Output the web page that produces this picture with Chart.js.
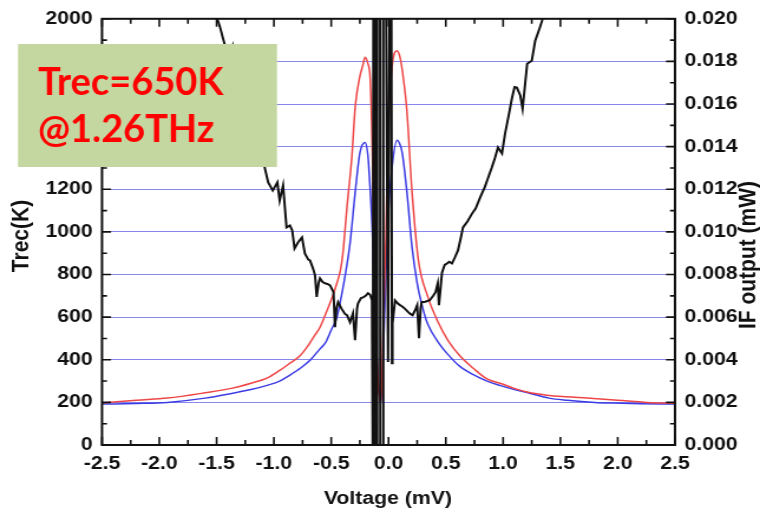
<!DOCTYPE html>
<html>
<head>
<meta charset="utf-8">
<script src="https://cdn.jsdelivr.net/npm/chart.js@4.4.1/dist/chart.umd.min.js"></script>
<style>
  body { margin: 0; background: #fff; }
</style>
</head>
<body>
<canvas id="plot" width="644" height="513" style="width:760px;height:513px;display:block"></canvas>
<script>
// receiver noise temperature (left axis), K
const trecVoltage = [-1.56, -1.495, -1.47, -1.45, -1.43, -1.40, -1.36, -1.33, -1.30, -1.26, -1.22, -1.18, -1.14, -1.10,
  -1.078, -1.05, -1.01, -0.97, -0.95, -0.92, -0.89, -0.86, -0.84, -0.82, -0.79, -0.755, -0.73, -0.70, -0.685,
  -0.66, -0.641, -0.627, -0.61, -0.598, -0.575, -0.554, -0.53, -0.51, -0.48, -0.467, -0.455, -0.44, -0.41,
  -0.38, -0.362, -0.336, -0.31, -0.292, -0.275, -0.266, -0.24, -0.222, -0.20, -0.179, -0.16, -0.144,
  -0.137, -0.132, -0.122, -0.118, -0.102, -0.098, -0.074, -0.072, -0.048, -0.045, -0.022, -0.004, 0.010,
  0.025, 0.030, 0.035, 0.057, 0.08, 0.10, 0.12, 0.14, 0.17, 0.19, 0.21, 0.23, 0.25, 0.266, 0.28, 0.29,
  0.32, 0.36, 0.39, 0.41, 0.43, 0.44, 0.467, 0.49, 0.51, 0.53, 0.554, 0.58, 0.606, 0.63, 0.65, 0.69,
  0.73, 0.76, 0.80, 0.84, 0.87, 0.90, 0.93, 0.955, 0.99, 1.017, 1.05, 1.078, 1.10, 1.12, 1.15, 1.17,
  1.21, 1.25, 1.28, 1.32, 1.34, 1.36, 1.40];
const trecValues = [2150, 2000, 1960, 1920, 1880, 1790, 1870, 1760, 1700, 1640, 1590, 1500, 1430, 1360,
  1297, 1232, 1194, 1232, 1147, 1218, 1021, 1030, 1007, 922, 950, 974, 899, 870, 866,
  830, 796, 695, 760, 782, 765, 759, 755, 749, 717, 553, 640, 670, 640,
  615, 609, 576, 618, 492, 640, 665, 690, 693, 700, 712, 705, 679,
  -100, 2200, 2200, -100, -100, 2200, 2200, -100, -100, 2200, 2200, 390, 2200,
  2200, 384, 571, 679, 665, 656, 650, 641, 625, 615, 609, 630, 656, 501, 640, 670,
  672, 679, 700, 717, 759, 656, 810, 845, 852, 860, 852, 881, 913, 970, 1021, 1050,
  1087, 1110, 1162, 1210, 1255, 1300, 1349, 1396, 1368, 1461, 1550, 1630, 1680, 1677, 1640, 1578,
  1789, 1803, 1897, 1958, 1990, 2080, 2200];

// IF output power (right axis), mW
const hotVoltage = [-2.5, -2.2, -1.93, -1.6, -1.36, -1.2, -1.06, -0.95, -0.86, -0.77, -0.71, -0.65, -0.6,
  -0.53, -0.48, -0.45, -0.42, -0.4, -0.36, -0.32, -0.29, -0.25, -0.225, -0.205, -0.18, -0.16, -0.14,
  -0.118, -0.09, -0.066, -0.048, -0.022, -0.004, 0.03, 0.074, 0.10, 0.13, 0.16, 0.205, 0.26, 0.34,
  0.43, 0.52, 0.62, 0.74, 0.86, 1.0, 1.09, 1.2, 1.38, 1.55, 1.73, 2.0, 2.26, 2.5];
const hotIF = [0.00197, 0.0021, 0.0022, 0.00245, 0.00267, 0.0029, 0.00314, 0.0035, 0.00384, 0.0042, 0.0046, 0.0051, 0.0055,
  0.0064, 0.0071, 0.0076, 0.0082, 0.0089, 0.0113, 0.0135, 0.0159, 0.0173, 0.0178, 0.0182, 0.0179, 0.0172, 0.0135,
  0.0068, 0.0029, 0.0020, 0.0052, 0.0099, 0.0146, 0.0177, 0.0185, 0.0182, 0.0172, 0.0157, 0.0119, 0.0087, 0.0070,
  0.0058, 0.0049, 0.0042, 0.0036, 0.0031, 0.00285, 0.00267, 0.0025, 0.00234, 0.00226, 0.0022, 0.0021, 0.0020, 0.00196];

const coldVoltage = [-2.5, -2.2, -1.93, -1.6, -1.36, -1.2, -1.06, -0.95, -0.86, -0.77, -0.68, -0.6, -0.55,
  -0.5, -0.45, -0.4, -0.38, -0.335, -0.29, -0.25, -0.205, -0.18, -0.16, -0.14, -0.118, -0.09, -0.066,
  -0.045, -0.03, -0.004, 0.03, 0.074, 0.10, 0.12, 0.16, 0.205, 0.25, 0.30, 0.34, 0.45, 0.51, 0.62,
  0.74, 0.86, 0.97, 1.1, 1.23, 1.4, 1.56, 1.8, 1.96, 2.2, 2.5];
const coldIF = [0.00192, 0.00195, 0.0020, 0.0022, 0.00243, 0.0026, 0.0028, 0.0030, 0.00328, 0.0036, 0.0040, 0.0045, 0.0048,
  0.0054, 0.0060, 0.0073, 0.0079, 0.0095, 0.0119, 0.0137, 0.0142, 0.0136, 0.0120, 0.0099, 0.0060, 0.0030, 0.0020,
  0.0045, 0.0068, 0.0107, 0.0130, 0.0143, 0.0141, 0.0137, 0.0119, 0.0093, 0.0076, 0.0064, 0.0057, 0.0047, 0.0043, 0.0037,
  0.0033, 0.0030, 0.0028, 0.0026, 0.00243, 0.0022, 0.0021, 0.0020, 0.00197, 0.00194, 0.00192];

const voltageTicks = [-2.5, -2.0, -1.5, -1.0, -0.5, 0.0, 0.5, 1.0, 1.5, 2.0, 2.5];

// the whole canvas is widened horizontally by CSS
const STRETCH = 760 / 644;
const FONT = "'Liberation Sans', Arial, sans-serif";

Chart.defaults.font.family = FONT;
Chart.defaults.font.weight = 'bold';
Chart.defaults.font.size = 18;
Chart.defaults.color = '#111';

const pts = (xs, ys) => xs.map((x, i) => ({ x: x, y: ys[i] }));

// frame, inward tick marks, axis titles and the note box
const decorations = {
  id: 'decorations',
  afterDatasetsDraw(chart) {
    const ctx = chart.ctx;
    const a = chart.chartArea;
    const xs = chart.scales.x, ys = chart.scales.y;
    ctx.save();
    ctx.strokeStyle = '#111';
    ctx.lineWidth = 1.6;
    for (let v = -2.5; v <= 2.5001; v += 0.25) {
      const px = xs.getPixelForValue(v);
      const len = Math.abs(v * 2 - Math.round(v * 2)) < 1e-6 ? 8 : 5;
      ctx.beginPath();
      ctx.moveTo(px, a.bottom); ctx.lineTo(px, a.bottom - len);
      ctx.moveTo(px, a.top); ctx.lineTo(px, a.top + len);
      ctx.stroke();
    }
    for (let v = 0; v <= 2000; v += 100) {
      const py = ys.getPixelForValue(v);
      const len = (v % 200 === 0 ? 9 : 5) / STRETCH;
      ctx.beginPath();
      ctx.moveTo(a.left, py); ctx.lineTo(a.left + len, py);
      ctx.moveTo(a.right, py); ctx.lineTo(a.right - len, py);
      ctx.stroke();
    }
    ctx.lineWidth = 2;
    ctx.strokeRect(a.left, a.top, a.right - a.left, a.bottom - a.top);
    ctx.restore();
  },
  afterDraw(chart) {
    const ctx = chart.ctx;
    ctx.save();
    ctx.fillStyle = '#111';
    ctx.textAlign = 'center';
    ctx.textBaseline = 'middle';
    ctx.font = 'bold 18px ' + FONT;
    ctx.fillText('Voltage (mV)', 388 / STRETCH, 499);

    ctx.font = 'bold 21px ' + FONT;
    ctx.save();
    ctx.translate(22 / STRETCH, 236);
    ctx.rotate(-Math.PI / 2);
    ctx.fillText('Trec(K)', 0, 0);
    ctx.restore();
    ctx.save();
    ctx.translate(748 / STRETCH, 255);
    ctx.rotate(-Math.PI / 2);
    ctx.fillText('IF output (mW)', 0, 0);
    ctx.restore();

    // note box, drawn without the horizontal widening
    ctx.scale(1 / STRETCH, 1);
    ctx.fillStyle = 'rgb(196, 215, 160)';
    ctx.fillRect(18, 44, 259, 123);
    ctx.fillStyle = '#ff0000';
    ctx.textAlign = 'left';
    ctx.textBaseline = 'alphabetic';
    ctx.font = 'bold 38px Lato, sans-serif';
    ctx.fillText('Trec=650K', 38, 95);
    ctx.fillText('@1.26THz', 38, 142);
    ctx.restore();
  }
};

new Chart(document.getElementById('plot'), {
  type: 'line',
  data: {
    datasets: [
      {
        label: 'Trec',
        data: pts(trecVoltage, trecValues),
        yAxisID: 'y',
        borderColor: '#111',
        borderWidth: 2,
        pointRadius: 0,
        tension: 0,
        clip: 0,
        order: 0
      },
      {
        label: 'IF hot',
        data: pts(hotVoltage, hotIF),
        yAxisID: 'y1',
        borderColor: 'rgb(238, 70, 70)',
        borderWidth: 1.5,
        pointRadius: 0,
        cubicInterpolationMode: 'monotone',
        clip: 0,
        order: 1
      },
      {
        label: 'IF cold',
        data: pts(coldVoltage, coldIF),
        yAxisID: 'y1',
        borderColor: 'rgb(60, 60, 228)',
        borderWidth: 1.5,
        pointRadius: 0,
        cubicInterpolationMode: 'monotone',
        clip: 0,
        order: 2
      }
    ]
  },
  options: {
    responsive: false,
    animation: false,
    events: [],
    layout: { padding: { top: 18, left: 0, right: 0, bottom: 0 } },
    plugins: { legend: { display: false }, tooltip: { enabled: false } },
    scales: {
      x: {
        type: 'linear',
        min: -2.5,
        max: 2.5,
        afterBuildTicks: (s) => { s.ticks = voltageTicks.map(v => ({ value: v })); },
        afterFit: (s) => { s.height = 68; },
        ticks: { padding: 8, maxRotation: 0, autoSkip: false, callback: (v) => Number(v).toFixed(1) },
        grid: { display: false, drawTicks: false },
        border: { display: false }
      },
      y: {
        position: 'left',
        min: 0,
        max: 2000,
        afterFit: (s) => { s.width = 102 / STRETCH; },
        ticks: { stepSize: 200, padding: 8, callback: (v) => String(v) },
        grid: {
          drawTicks: false,
          lineWidth: 1,
          color: (c) => (c.tick && (c.tick.value === 0 || c.tick.value === 2000)) ? 'rgba(0,0,0,0)' : 'rgba(95, 95, 230, 0.75)'
        },
        border: { display: false }
      },
      y1: {
        position: 'right',
        min: 0,
        max: 0.02,
        afterFit: (s) => { s.width = 85 / STRETCH; },
        ticks: { stepSize: 0.002, padding: 8, callback: (v) => Number(v).toFixed(3) },
        grid: { display: false, drawTicks: false },
        border: { display: false }
      }
    }
  },
  plugins: [decorations]
});
</script>
</body>
</html>
